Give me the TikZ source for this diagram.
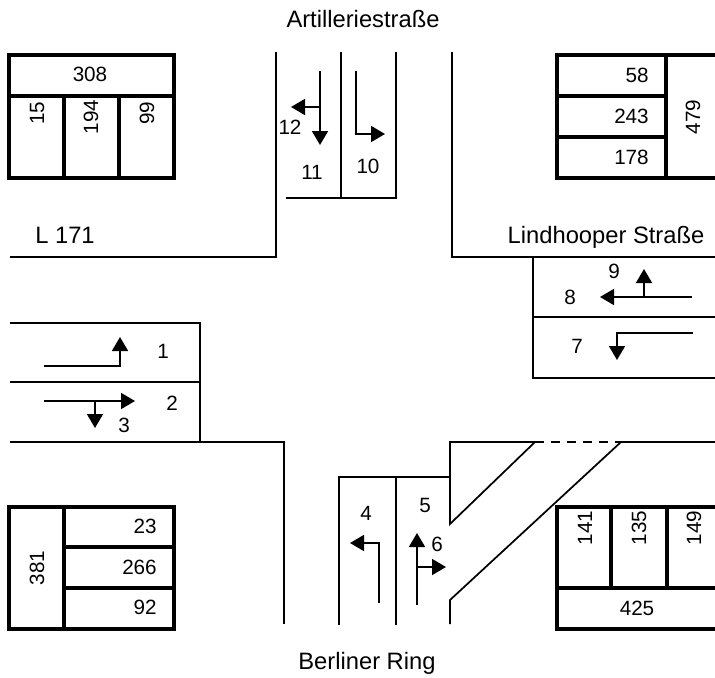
\documentclass[tikz,border=0pt]{standalone}
\usepackage{fontspec}
\setmainfont{Liberation Sans}
\usetikzlibrary{arrows.meta}
\tikzset{
  road/.style={line width=1.3pt, line cap=butt},
  lane/.style={line width=1.3pt, -{Triangle[length=10.5pt, width=12pt]}},
  tbl/.style={line width=2.3pt},
  lbl/.style={font=\fontsize{15.5}{17}\selectfont, inner sep=0pt},
  vlbl/.style={lbl, rotate=90},
  rlbl/.style={lbl, anchor=east},
  street/.style={font=\fontsize{17.8}{20}\selectfont, inner sep=0pt},
}

\begin{document}
\begin{tikzpicture}[x=0.75pt, y=-0.75pt]
  \useasboundingbox (0,0) rectangle (715,678);
  % street names
  \node[street] (north) at (363,19) {Artilleriestraße};
  \node[street] (south) at (367,663) {Berliner Ring};
  \node[street] (west)  at (65,235) {L 171};
  \node[street] (east)  at (606,237) {Lindhooper Straße};
  % kerbs
  \draw[road] (10,257) -- (276,257) -- (276,52);
  \draw[road] (452,52) -- (452,257) -- (715,257);
  \draw[road] (10,442) -- (284,442) -- (284,624);
  \draw[road] (339,625) -- (339,477) -- (450,477);
  \draw[road] (396,477) -- (396,625);
  % north arm
  \draw[road] (341,52) -- (341,198);
  \draw[road] (396,52) -- (396,198) -- (286,198);
  % east arm
  \draw[road] (533,257) -- (533,378) -- (715,378);
  \draw[road] (533,317) -- (715,317);
  % west arm
  \draw[road] (10,323) -- (200,323) -- (200,442);
  \draw[road] (10,382) -- (200,382);
  % south arm, island and slip road
  \draw[road] (450,477) -- (450,442) -- (535,442) -- (450,524) -- cycle;
  \draw[road, dashed, dash pattern=on 7pt off 5pt] (535,442) -- (621,442);
  \draw[road] (715,442) -- (621,442) -- (450,600) -- (450,624);
  % lane arrows
  \draw[lane] (44,366) -- (120,366) -- (120,337);
  \draw[lane] (44,401) -- (135,401);
  \draw[lane] (95,401) -- (95,428);
  \draw[lane] (379,603) -- (379,543) -- (350,543);
  \draw[lane] (417,605) -- (417,533);
  \draw[lane] (417,567) -- (446,567);
  \draw[lane] (693,333) -- (617,333) -- (617,360);
  \draw[lane] (692,297) -- (600,297);
  \draw[lane] (644,297) -- (644,269);
  \draw[lane] (356,71) -- (356,134) -- (385,134);
  \draw[lane] (320,71) -- (320,145);
  \draw[lane] (320,107) -- (291,107);
  % lane numbers
  \node[lbl] (l1)  at (163,351) {1};
  \node[lbl] (l2)  at (172,403) {2};
  \node[lbl] (l3)  at (124,425) {3};
  \node[lbl] (l4)  at (366,513) {4};
  \node[lbl] (l5)  at (425,505) {5};
  \node[lbl] (l6)  at (437,544) {6};
  \node[lbl] (l7)  at (577,346) {7};
  \node[lbl] (l8)  at (570,297) {8};
  \node[lbl] (l9)  at (614,271) {9};
  \node[lbl] (l10) at (368,166) {10};
  \node[lbl] (l11) at (312,172) {11};
  \node[lbl] (l12) at (290,127) {12};
  % count table north-west
  \draw[tbl] (9,55) rectangle (174,178);
  \draw[tbl] (9,96) -- (174,96);
  \draw[tbl] (64,96) -- (64,178);
  \draw[tbl] (119,96) -- (119,178);
  \node[lbl] (nwsum) at (90,74) {308};
  \node[vlbl] (nwa) at (37,113) {15};
  \node[vlbl] (nwb) at (91,117) {194};
  \node[vlbl] (nwc) at (147,113) {99};
  % count table north-east
  \draw[tbl] (715,55) -- (557,55) -- (557,178) -- (715,178);
  \draw[tbl] (666,55) -- (666,178);
  \draw[tbl] (557,96) -- (666,96);
  \draw[tbl] (557,137) -- (666,137);
  \node[rlbl] (nea) at (649,75) {58};
  \node[rlbl] (neb) at (649,116) {243};
  \node[rlbl] (nec) at (649,157) {178};
  \node[vlbl] (nesum) at (693,117) {479};
  % count table south-west
  \draw[tbl] (9,507) rectangle (174,629);
  \draw[tbl] (64,507) -- (64,629);
  \draw[tbl] (64,547) -- (174,547);
  \draw[tbl] (64,588) -- (174,588);
  \node[rlbl] (swa) at (157,526) {23};
  \node[rlbl] (swb) at (157,567) {266};
  \node[rlbl] (swc) at (157,607) {92};
  \node[vlbl] (swsum) at (37,568) {381};
  % count table south-east
  \draw[tbl] (715,507) -- (557,507) -- (557,629) -- (715,629);
  \draw[tbl] (557,588) -- (715,588);
  \draw[tbl] (611,507) -- (611,588);
  \draw[tbl] (667,507) -- (667,588);
  \node[vlbl] (sea) at (585,528) {141};
  \node[vlbl] (seb) at (639,528) {135};
  \node[vlbl] (sec) at (694,528) {149};
  \node[lbl] (sesum) at (637,608) {425};
\end{tikzpicture}
\end{document}
